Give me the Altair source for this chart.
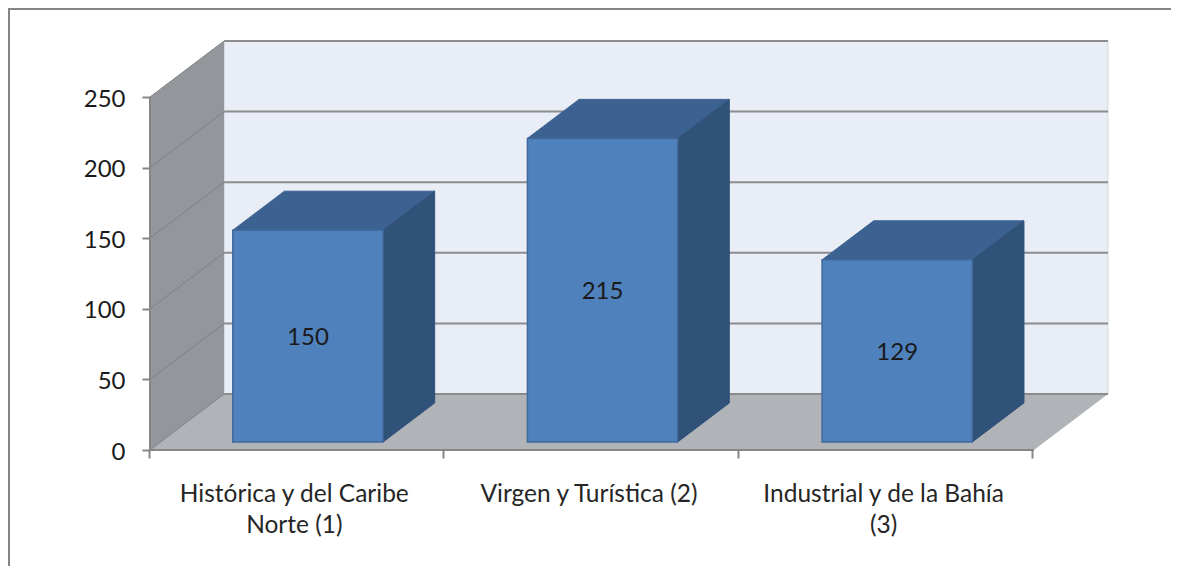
import altair as alt
import pandas as pd

categories = [["Histórica y del Caribe", "Norte (1)"], ["Virgen y Turística (2)"], ["Industrial y de la Bahía", "(3)"]]
values = [150, 215, 129]
y_ticks = [0, 50, 100, 150, 200, 250]

FONT = "Lato"
FS = 24
PX_X = 294.33           # pixels per category
PX_Y = 1.412            # pixels per value unit
DX = 74 / PX_X          # oblique depth shift, in category units
DY = 56 / PX_Y          # oblique depth shift, in value units
D0, D1 = 0.143, 0.84    # share of the depth occupied by the bars
HALF = 0.255
n = len(values)
YMAX = y_ticks[-1]

W, H = 958, 409
xs = alt.Scale(domain=[0, 3 + DX], nice=False, zero=False)
ys = alt.Scale(domain=[0, YMAX + DY], nice=False, zero=False)

cat_expr = "[" + ",".join(
    "[" + ",".join(f"'{s}'" for s in c) + "]" for c in categories
) + "]"
x_axis = alt.Axis(
    values=[0, 0.5, 1, 1.5, 2, 2.5, 3],
    labelExpr=f"datum.value % 1 == 0 ? '' : {cat_expr}[floor(datum.value)]",
    tickOpacity={"condition": {"test": "datum.value % 1 == 0", "value": 1}, "value": 0},
    domain=False, grid=False, tickColor="#868686", tickWidth=2, tickSize=8, tickOffset=-1.5,
    labelFont=FONT, labelFontSize=24.5, labelColor="#262626", labelPadding=24, labelOffset=-2,
    labelOverlap=False, labelFlush=False, labelBound=False, labelLineHeight=31,
    labelBaseline="top", labelAlign="center", labelAngle=0, labelLimit=500,
)
y_axis = alt.Axis(
    values=y_ticks, domain=False, grid=False, tickColor="#868686", tickWidth=2, tickSize=8,
    labelFont=FONT, labelFontSize=FS, labelColor="#1a1a1a", labelPadding=17, labelOffset=2,
    labelOverlap=False, labelFlush=False, labelBound=False,
)


def X(field="x"):
    return alt.X(f"{field}:Q", scale=xs, axis=x_axis, title=None)


def Y(field="y"):
    return alt.Y(f"{field}:Q", scale=ys, axis=y_axis, title=None)


def top_face(x0, x1, v, d0, d1):
    """Parallelogram between two depths, as an area with three breaks."""
    sx, sy = (d1 - d0) * DX, (d1 - d0) * DY
    f0, fy = x0 + d0 * DX, v + d0 * DY
    f1 = x1 + d0 * DX
    return [
        dict(x=f0, y=fy, y2=fy),
        dict(x=f0 + sx, y=fy, y2=fy + sy),
        dict(x=f1, y=fy, y2=fy + sy),
        dict(x=f1 + sx, y=fy + sy, y2=fy + sy),
    ]


def area(rows, color, stroke=None, sw=0):
    opts = dict(color=color, interpolate="linear", clip=False, orient="vertical")
    if stroke:
        opts.update(stroke=stroke, strokeWidth=sw)
    return alt.Chart(pd.DataFrame(rows)).mark_area(**opts).encode(
        x=X(), y=Y(), y2=alt.Y2("y2:Q")
    )


# back wall
wall = alt.Chart(pd.DataFrame([dict(x=DX, x2=3 + DX, y=DY, y2=YMAX + DY)])).mark_rect(
    color="#e9edf6", stroke="#d3d7df", strokeWidth=1
).encode(x=X(), x2="x2:Q", y=Y(), y2="y2:Q")

floor = area(top_face(0, 3, 0, 0, 1), "#b0b3b7")
side_wall = area([dict(x=0, y=0, y2=YMAX), dict(x=DX, y=DY, y2=YMAX + DY)], "#93969b")

back_grid = alt.Chart(
    pd.DataFrame([dict(x=DX, x2=3 + DX, y=v + DY) for v in y_ticks])
).mark_rule(color="#8c8c8c", strokeWidth=2).encode(x=X(), x2="x2:Q", y=Y())

side_grid = alt.Chart(
    pd.DataFrame([dict(x=0, x2=DX, y=v, y2=v + DY) for v in y_ticks])
).mark_rule(color="#7f8184", strokeWidth=1).encode(x=X(), x2="x2:Q", y=Y(), y2="y2:Q")

axis_lines = alt.Chart(
    pd.DataFrame([dict(x=0, x2=3, y=0, y2=0), dict(x=0, x2=0, y=0, y2=YMAX)])
).mark_rule(color="#868686", strokeWidth=2).encode(x=X(), x2="x2:Q", y=Y(), y2="y2:Q")

layers = [wall, floor, side_wall, back_grid, side_grid, axis_lines]

base = D0 * DY
depth = D1 - D0
for i, v in enumerate(values):
    x0 = i + 0.5 - HALF + D0 * DX
    x1 = i + 0.5 + HALF + D0 * DX
    # top face
    layers.append(area(
        top_face(i + 0.5 - HALF, i + 0.5 + HALF, v, D0, D1),
        "#3c6291", "#3c6291", 1,
    ))
    # right side face
    layers.append(area(
        [
            dict(x=x1, y=base, y2=base + v),
            dict(x=x1 + depth * DX, y=base + depth * DY, y2=base + depth * DY + v),
        ],
        "#305279", "#305279", 1,
    ))
    # front face
    layers.append(
        alt.Chart(pd.DataFrame([dict(x=x0, x2=x1, y=base, y2=base + v)]))
        .mark_rect(color="#4f81bd", stroke="#41699b", strokeWidth=1.5)
        .encode(x=X(), x2="x2:Q", y=Y(), y2="y2:Q")
    )

labels = alt.Chart(pd.DataFrame([
    dict(x=i + 0.5 + D0 * DX, y=base + v / 2, t=str(v)) for i, v in enumerate(values)
])).mark_text(font=FONT, fontSize=FS, color="#1a1a1a", align="center", baseline="middle", dy=2).encode(
    x=X(), y=Y(), text="t:N"
)
layers.append(labels)

# picture frame, partly open (top and left edges only)
frame_top = alt.Chart(pd.DataFrame({"a": [0]})).mark_rule(color="#858585", strokeWidth=2, clip=False).encode(
    x=alt.value(-141), x2=alt.value(1029), y=alt.value(-32)
)
frame_left = alt.Chart(pd.DataFrame({"a": [0]})).mark_rule(color="#858585", strokeWidth=2, clip=False).encode(
    x=alt.value(-141), y=alt.value(-33), y2=alt.value(530)
)
layers += [frame_top, frame_left]

chart = alt.layer(*layers).properties(
    width=W, height=H,
    autosize=alt.AutoSizeParams(type="none"),
    padding={"left": 142, "top": 33, "right": 63, "bottom": 116},
    background="white",
).configure_view(stroke=None)

chart.save("out.html", embed_options={"renderer": "svg", "actions": False})
